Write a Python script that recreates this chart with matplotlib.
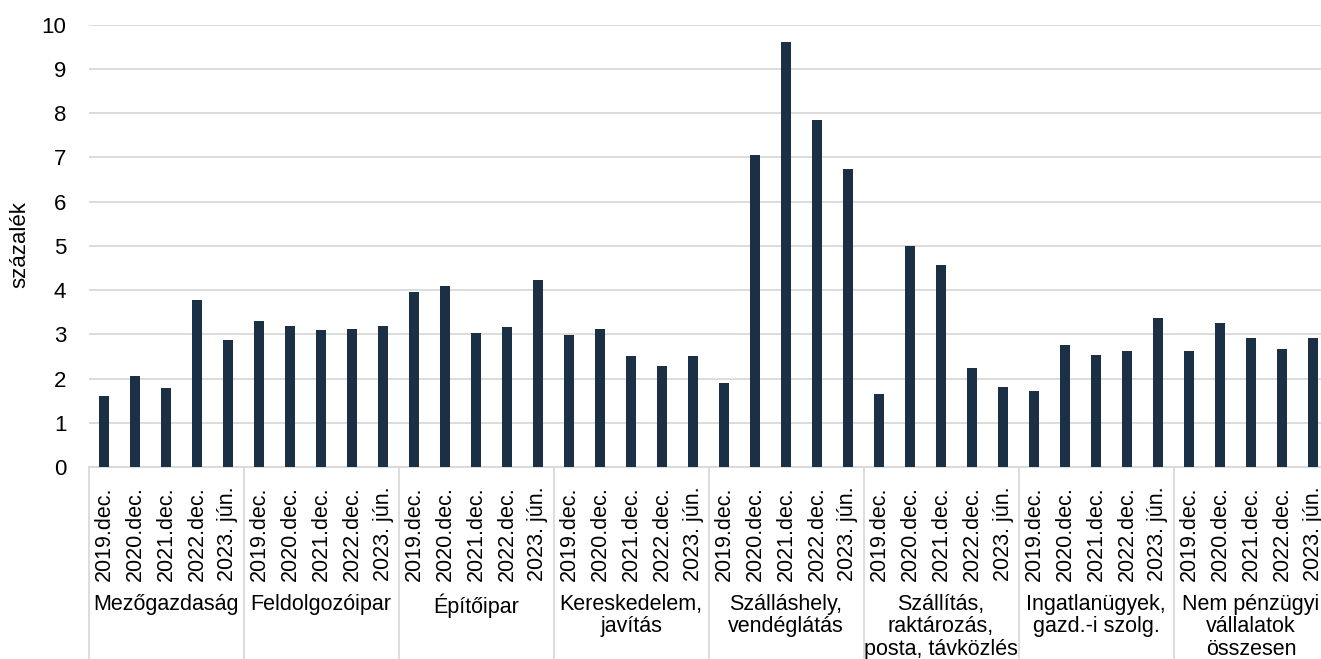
import matplotlib
matplotlib.use("Agg")
import matplotlib.pyplot as plt
from matplotlib.transforms import blended_transform_factory
from matplotlib.lines import Line2D

plt.rcParams['font.family'] = ['Liberation Sans', 'DejaVu Sans']

groups = ["Mezőgazdaság", "Feldolgozóipar", "Építőipar", "Kereskedelem,\njavítás",
          "Szálláshely,\nvendéglátás", "Szállítás,\nraktározás,\nposta, távközlés",
          "Ingatlanügyek,\ngazd.-i szolg.", "Nem pénzügyi\nvállalatok\nösszesen"]
periods = ["2019.dec.", "2020.dec.", "2021.dec.", "2022.dec.", "2023. jún."]

mezogazdasag = [1.60, 2.06, 1.79, 3.77, 2.87]
feldolgozoipar = [3.30, 3.18, 3.09, 3.11, 3.19]
epitoipar = [3.95, 4.09, 3.04, 3.16, 4.22]
kereskedelem = [2.99, 3.12, 2.50, 2.28, 2.52]
szallashely = [1.89, 7.05, 9.60, 7.84, 6.74]
szallitas = [1.66, 5.00, 4.56, 2.23, 1.80]
ingatlan = [1.72, 2.75, 2.53, 2.63, 3.37]
osszesen = [2.62, 3.25, 2.91, 2.67, 2.92]

series = [mezogazdasag, feldolgozoipar, epitoipar, kereskedelem,
          szallashely, szallitas, ingatlan, osszesen]

values = [v for s in series for v in s]
labels = [p for _ in groups for p in periods]
x = list(range(len(values)))

W, H = 1321, 659
fig = plt.figure(figsize=(W / 100, H / 100), dpi=100)
left_px, right_px = 88.5, 1328.5
top_px, bottom_px = 24.7, 467
ax = fig.add_axes([left_px / W, 1 - bottom_px / H, (right_px - left_px) / W,
                   (bottom_px - top_px) / H])

ax.bar(x, values, width=0.31, color='#1b3045', zorder=3)
ax.set_xlim(-0.5, len(values) - 0.5)
ax.set_ylim(0, 10)
ax.set_yticks(range(0, 11))
ax.grid(axis='y', color='#d9d9d9', linewidth=1.3, zorder=0)
for s in ['top', 'right', 'left']:
    ax.spines[s].set_visible(False)
ax.spines['bottom'].set_color('#d9d9d9')
ax.spines['bottom'].set_linewidth(1.3)
ax.tick_params(axis='y', length=0, pad=16, labelsize=16, labelcolor='black')
ax.set_xticks(x)
ax.set_xticklabels(labels, rotation=90, fontsize=15.5)
ax.tick_params(axis='x', length=0, pad=14)

fig.text(20 / W, 1 - 245 / H, "százalék", rotation=90, ha='center', va='center', fontsize=16)

trans = blended_transform_factory(ax.transData, fig.transFigure)
for i in range(len(groups) + 1):
    xp = i * 5 - 0.5
    ln = Line2D([xp, xp], [1 - bottom_px / H, 0], transform=trans, color='#d9d9d9',
                linewidth=1.3, clip_on=False)
    fig.add_artist(ln)

for i, g in enumerate(groups):
    fig.text(i * 5 + 2, 1 - 594 / H, g, transform=trans, ha='center', va='top',
             fontsize=15.5, linespacing=1.08, multialignment='center')

fig.savefig("out.png", dpi=100)
